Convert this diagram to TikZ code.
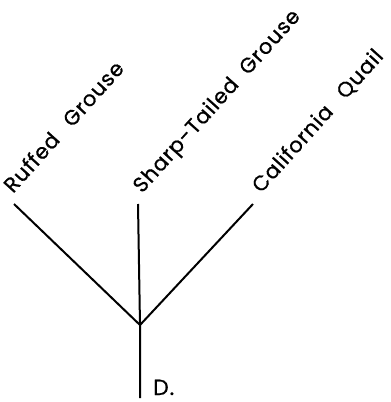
\documentclass[tikz,border=0pt]{standalone}
\usepackage{fontspec}
\setmainfont{Poppins}[FakeBold=0.8,LetterSpace=4]
\begin{document}
\begin{tikzpicture}[x=1pt,y=-1pt,
  branch/.style={line width=2pt,line cap=butt},
  taxon/.style={anchor=base west,rotate=48,font=\fontsize{21}{21}\selectfont,inner sep=0pt},
  lbl/.style={anchor=base west,font=\fontsize{22}{22}\selectfont,inner sep=0pt}]
\useasboundingbox (0,0) rectangle (391,402);
\coordinate (j) at (140,325);
\coordinate (r) at (14,204);
\coordinate (s) at (138,204);
\coordinate (c) at (253,204);
\coordinate (root) at (140,398);
\draw[branch] (r) -- (j);
\draw[branch] (c) -- (j);
\draw[branch] (s) -- (j) -- (root);
\node[taxon] (tr) at (13,194) {Ruffed\hspace{0.8em}Grouse};
\node[taxon] (ts) at (142,194) {Sharp-Tailed\hspace{0.6em}Grouse};
\node[taxon] (tc) at (261,194) {California\hspace{0.8em}Quail};
\node[lbl] (d) at (153,395) {D.};
\end{tikzpicture}
\end{document}
